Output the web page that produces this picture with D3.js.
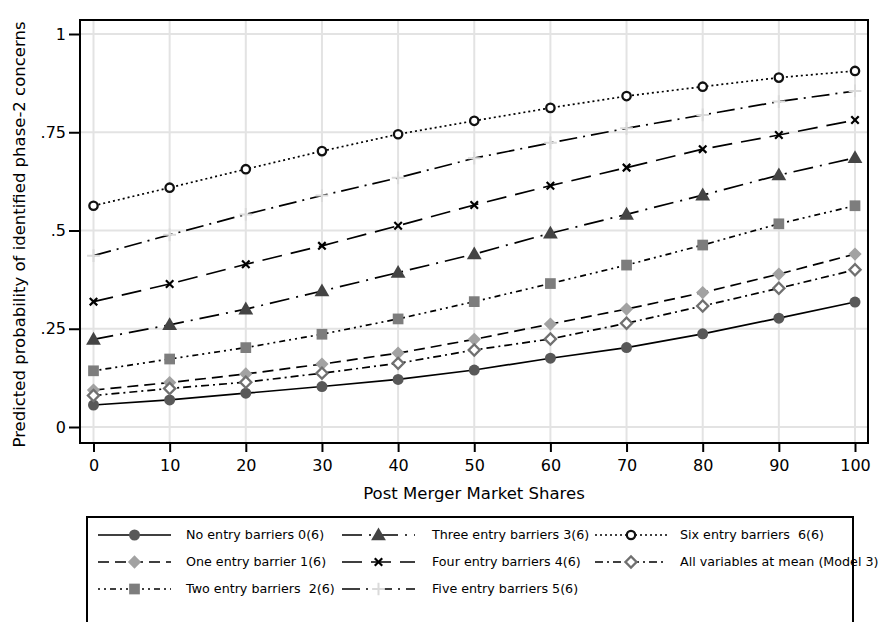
<!DOCTYPE html>
<html><head><meta charset="utf-8">
<script src="https://cdn.jsdelivr.net/npm/d3@7"></script>
<style>html,body{margin:0;padding:0;background:#fff;}svg{display:block;font-family:"DejaVu Sans",sans-serif;}text{white-space:pre;}</style>
</head><body>
<svg id="chart" width="882" height="622"></svg>
<script>
const shares = [0,10,20,30,40,50,60,70,80,90,100];
const xTickLabels = ["0","10","20","30","40","50","60","70","80","90","100"];
const yTickValues = [0,0.25,0.5,0.75,1];
const yTickLabels = ["0",".25",".5",".75","1"];
const seriesNames = ["No entry barriers 0(6)","One entry barrier 1(6)","Two entry barriers  2(6)","Three entry barriers 3(6)","Four entry barriers 4(6)","Five entry barriers 5(6)","Six entry barriers  6(6)","All variables at mean (Model 3)"];
const noBarriers    = [0.056,0.069,0.086,0.103,0.121,0.145,0.175,0.202,0.237,0.277,0.318];
const oneBarrier    = [0.094,0.113,0.135,0.160,0.188,0.223,0.262,0.300,0.342,0.389,0.440];
const twoBarriers   = [0.143,0.173,0.202,0.236,0.275,0.319,0.365,0.412,0.463,0.517,0.563];
const threeBarriers = [0.223,0.260,0.300,0.346,0.393,0.440,0.493,0.541,0.590,0.641,0.685];
const fourBarriers  = [0.319,0.364,0.414,0.461,0.512,0.565,0.614,0.660,0.707,0.743,0.781];
const fiveBarriers  = [0.436,0.489,0.541,0.589,0.634,0.684,0.723,0.760,0.794,0.828,0.855];
const sixBarriers   = [0.563,0.609,0.656,0.702,0.745,0.779,0.812,0.842,0.866,0.889,0.906];
const meanModel3    = [0.080,0.098,0.114,0.137,0.162,0.196,0.224,0.264,0.308,0.353,0.400];
const seriesValues = [noBarriers,oneBarrier,twoBarriers,threeBarriers,fourBarriers,fiveBarriers,sixBarriers,meanModel3];

const styles = [
  {dash:null, sym:"circle", fill:"#585858", stroke:"none", size:95},
  {dash:"11,6", sym:"diamond", fill:"#a2a2a2", stroke:"none", size:88},
  {dash:"2,4,2,4,6,4", sym:"square", fill:"#7d7d7d", stroke:"none", size:115},
  {dash:"20,7,2,7", sym:"triangle", fill:"#444444", stroke:"none", size:95},
  {dash:"20,9", sym:"times", fill:"none", stroke:"#000", size:38, sw:2.2},
  {dash:"18,6,2,6", sym:"plus", fill:"none", stroke:"#dadada", size:55, sw:2},
  {dash:"2,3", sym:"circle", fill:"#fff", stroke:"#111", size:55, sw:2.3},
  {dash:"8,4,2,4", sym:"diamond", fill:"#fff", stroke:"#707070", size:62, sw:2.3}
];

const svg = d3.select("#chart");
const frame = {l:80, t:20, r:868, b:443};
const x = d3.scaleLinear().domain([0,100]).range([93.5,855]);
const y = d3.scaleLinear().domain([0,1]).range([427,34]);

// gridlines
const grid = svg.append("g");
grid.selectAll("line.v").data(shares).join("line")
  .attr("x1",d=>x(d)).attr("x2",d=>x(d)).attr("y1",frame.t).attr("y2",frame.b)
  .attr("stroke","#e3e3e3").attr("stroke-width",2);
grid.selectAll("line.h").data(yTickValues).join("line")
  .attr("y1",d=>y(d)).attr("y2",d=>y(d)).attr("x1",frame.l).attr("x2",frame.r)
  .attr("stroke","#e3e3e3").attr("stroke-width",2);

// axes
const xAxis = d3.axisBottom(x).tickValues(shares).tickFormat((d,i)=>xTickLabels[i]).tickSize(9).tickPadding(8).tickSizeOuter(0);
const gx = svg.append("g").attr("transform",`translate(0,${frame.b})`).call(xAxis);
gx.select(".domain").remove();
gx.selectAll(".tick line").attr("stroke","#000").attr("stroke-width",2);
gx.selectAll("text").attr("font-size",16).attr("fill","#000").attr("font-family","DejaVu Sans");

const yAxis = d3.axisLeft(y).tickValues(yTickValues).tickFormat((d,i)=>yTickLabels[i]).tickSize(11).tickPadding(3).tickSizeOuter(0);
const gy = svg.append("g").attr("transform",`translate(${frame.l},0)`).call(yAxis);
gy.select(".domain").remove();
gy.selectAll(".tick line").attr("stroke","#000").attr("stroke-width",2);
gy.selectAll("text").attr("font-size",16).attr("fill","#000").attr("font-family","DejaVu Sans");

// frame
svg.append("rect").attr("x",frame.l).attr("y",frame.t).attr("width",frame.r-frame.l).attr("height",frame.b-frame.t)
  .attr("fill","none").attr("stroke","#000").attr("stroke-width",2);

// titles
svg.append("text").attr("x",(frame.l+frame.r)/2).attr("y",499).attr("text-anchor","middle")
  .attr("font-size",16.5).text("Post Merger Market Shares");
svg.append("text").attr("transform",`translate(25,${(frame.t+frame.b)/2+3}) rotate(-90)`).attr("text-anchor","middle")
  .attr("font-size",16.5).text("Predicted probability of identified phase-2 concerns");

function symPath(st){
  const types={circle:d3.symbolCircle,diamond:d3.symbolSquare,square:d3.symbolSquare,triangle:d3.symbolTriangle,times:d3.symbolTimes,plus:d3.symbolPlus};
  return d3.symbol().type(types[st.sym]).size(st.size)();
}
function drawMarker(g,st,cx,cy){
  const rot = st.sym==="diamond" ? " rotate(45)" : "";
  const dy = st.sym==="triangle" ? 1 : 0;
  g.append("path").attr("d",symPath(st)).attr("transform",`translate(${cx},${cy+dy})${rot}`)
    .attr("fill",st.fill).attr("stroke",st.stroke).attr("stroke-width",st.sw||0);
}

const line = d3.line().x((d,i)=>x(shares[i])).y(d=>y(d));
const plot = svg.append("g");
seriesValues.forEach((vals,k)=>{
  const st = styles[k];
  plot.append("path").attr("d",line(vals)).attr("fill","none").attr("stroke","#000")
    .attr("stroke-width",1.7).attr("stroke-dasharray",st.dash);
});
seriesValues.forEach((vals,k)=>{
  const st = styles[k];
  const g = plot.append("g");
  vals.forEach((v,i)=>drawMarker(g,st,x(shares[i]),y(v)));
});

// legend
const leg = svg.append("g");
leg.append("path").attr("d","M87,640 L87,517 L853,517 L853,640").attr("fill","none").attr("stroke","#000").attr("stroke-width",2);
const colLine = [[98,171],[342,415],[595,667]];
const colText = [186,432,680];
const rowY = [535,562,589];
const order = [[0,1,2],[3,4,5],[6,7]];
order.forEach((col,c)=>{
  col.forEach((k,r)=>{
    const st = styles[k];
    const yy = rowY[r];
    leg.append("line").attr("x1",colLine[c][0]).attr("x2",colLine[c][1]).attr("y1",yy).attr("y2",yy)
      .attr("stroke","#000").attr("stroke-width",1.7).attr("stroke-dasharray",st.dash);
    drawMarker(leg,st,(colLine[c][0]+colLine[c][1])/2,yy);
    leg.append("text").attr("x",colText[c]).attr("y",yy).attr("dy","0.35em").attr("font-size",12.7).text(seriesNames[k]);
  });
});
</script>
</body></html>
